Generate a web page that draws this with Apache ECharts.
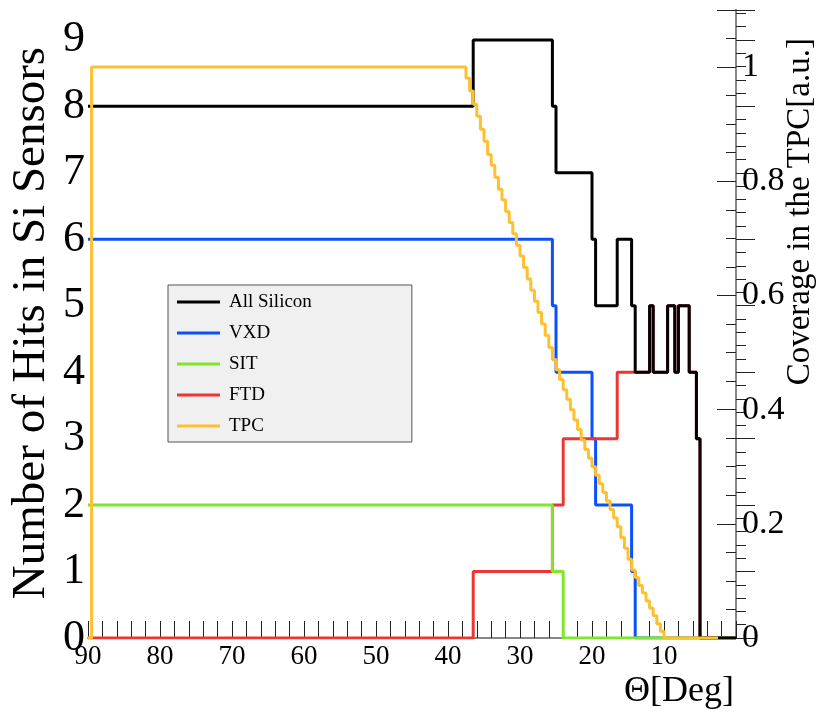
<!DOCTYPE html>
<html>
<head>
<meta charset="utf-8">
<script src="https://cdn.jsdelivr.net/npm/echarts@6/dist/echarts.min.js"></script>
<style>html,body{margin:0;padding:0;background:#fff;}#chart{width:818px;height:712px;}</style>
</head>
<body>
<div id="chart"></div>
<script>
// Bin edges in degrees (descending) and the value held between edge i and edge i+1
const allSiEdges = [90, 36.5, 25.5, 25, 20, 19.5, 16.5, 14.5, 14, 12, 11.5, 9.5, 8.5, 8, 6.5, 5.5, 5, 0];
const allSiHits  = [8, 9, 8, 7, 6, 5, 6, 5, 4, 5, 4, 5, 4, 5, 4, 3, 0];

const vxdEdges = [90, 25.5, 25, 20, 19.5, 14.5, 14, 0];
const vxdHits  = [6, 5, 4, 3, 2, 1, 0];

const sitEdges = [90, 25.5, 24, 0];
const sitHits  = [2, 1, 0];

const ftdEdges = [90, 36.5, 25.5, 24, 16.5, 12, 11.5, 9.5, 8.5, 8, 6.5, 5.5, 5, 0];
const ftdHits  = [0, 1, 2, 3, 4, 5, 4, 5, 4, 5, 4, 3, 0];

const tpcEdges = [90, 89.5,
  37.5, 37, 36.5, 36, 35.5, 35, 34.5, 34, 33.5, 33, 32.5, 32, 31.5, 31, 30.5, 30,
  29.5, 29, 28.5, 28, 27.5, 27, 26.5, 26, 25.5, 25, 24.5, 24, 23.5, 23, 22.5, 22,
  21.5, 21, 20.5, 20, 19.5, 19, 18.5, 18, 17.5, 17, 16.5, 16, 15.5, 15, 14.5, 14,
  13.5, 13, 12.5, 12, 11.5, 11, 10.5, 10, 2.5];
const tpcCoverage = [0, 1,
  0.981, 0.958, 0.935, 0.914, 0.891, 0.870, 0.847, 0.828, 0.807, 0.786, 0.767,
  0.747, 0.728, 0.708, 0.688, 0.669, 0.649, 0.629, 0.609, 0.590, 0.570, 0.550,
  0.530, 0.509, 0.488, 0.470, 0.453, 0.435, 0.418, 0.400, 0.382, 0.365, 0.347,
  0.330, 0.315, 0.300, 0.285, 0.270, 0.255, 0.240, 0.225, 0.210, 0.195, 0.176,
  0.157, 0.138, 0.119, 0.106, 0.092, 0.079, 0.065, 0.052, 0.039, 0.025, 0.012, 0];

const xTickLabels = [90, 80, 70, 60, 50, 40, 30, 20, 10];
const leftTickLabels = [0, 1, 2, 3, 4, 5, 6, 7, 8, 9];
const rightTickLabels = [0, 0.2, 0.4, 0.6, 0.8, 1];

function stepData(edges, vals) {
  const d = vals.map((v, i) => [edges[i], v]);
  d.push([edges[edges.length - 1], vals[vals.length - 1]]);
  return d;
}

const SERIF = 'Liberation Serif';
const chart = echarts.init(document.getElementById('chart'));

function mkSeries(name, edges, vals, color, z, yIdx) {
  return {
    name: name, type: 'line', step: 'end', symbol: 'none', z: z,
    yAxisIndex: yIdx || 0,
    data: stepData(edges, vals),
    lineStyle: { color: color, width: 3 },
    itemStyle: { color: color },
    animation: false
  };
}

chart.setOption({
  animation: false,
  backgroundColor: '#fff',
  grid: { left: 88, right: 82, top: 10, bottom: 74 },
  legend: {
    data: ['All Silicon', 'VXD', 'SIT', 'FTD', 'TPC'],
    orient: 'vertical',
    left: 168, top: 285,
    backgroundColor: '#f0f0f0',
    borderColor: '#555', borderWidth: 1, borderRadius: 0,
    padding: [7, 100, 6, 9],
    itemGap: 11,
    itemWidth: 43, itemHeight: 3,
    icon: 'rect',
    textStyle: { fontFamily: SERIF, fontSize: 19, color: '#000', lineHeight: 20, padding: [0, 0, 0, 4] }
  },
  xAxis: {
    type: 'value', min: 0, max: 90, interval: 10, inverse: true,
    axisLine: { show: true, onZero: false, lineStyle: { color: '#888', width: 2 } },
    axisTick: { show: true, inside: true, length: 17, lineStyle: { color: '#222', width: 1 } },
    minorTick: { show: true, splitNumber: 5, length: 17, lineStyle: { color: '#222', width: 1 } },
    splitLine: { show: false },
    axisLabel: {
      fontFamily: SERIF, fontSize: 27, color: '#000', margin: 5,
      formatter: v => xTickLabels.indexOf(v) >= 0 ? String(v) : ''
    }
  },
  yAxis: [{
    type: 'value', min: 0, max: 9.45, interval: 1, position: 'left',
    axisLine: { show: true, lineStyle: { color: '#888', width: 2 } },
    axisTick: { show: true, inside: true, length: 19, lineStyle: { color: '#222', width: 1 } },
    minorTick: { show: true, splitNumber: 5, length: 10, lineStyle: { color: '#222', width: 1 } },
    splitLine: { show: false },
    axisLabel: {
      fontFamily: SERIF, fontSize: 44, color: '#000', margin: 3, showMaxLabel: false,
      formatter: v => leftTickLabels.indexOf(v) >= 0 ? String(v) : ''
    }
  }, {
    type: 'value', min: 0, max: 1.1, interval: 0.2, position: 'right',
    axisLine: { show: true, lineStyle: { color: '#888', width: 2 } },
    axisTick: { show: true, inside: true, length: 19, lineStyle: { color: '#222', width: 1 } },
    minorTick: { show: true, splitNumber: 4, length: 10, lineStyle: { color: '#222', width: 1 } },
    splitLine: { show: false },
    axisLabel: {
      fontFamily: SERIF, fontSize: 34, color: '#000', margin: 6, showMaxLabel: false,
      formatter: v => {
        const r = Math.round(v * 10) / 10;
        return rightTickLabels.indexOf(r) >= 0 ? String(r) : '';
      }
    }
  }],
  graphic: [
    { type: 'text', x: 32, y: 323, rotation: Math.PI / 2,
      style: { text: 'Number of Hits in Si Sensors', fontFamily: SERIF, fontSize: 47, fill: '#000',
               align: 'center', verticalAlign: 'middle' } },
    { type: 'text', x: 800, y: 38, rotation: Math.PI / 2,
      style: { text: 'Coverage in the TPC[a.u.]', fontFamily: SERIF, fontSize: 33, fill: '#000',
               align: 'right', verticalAlign: 'middle' } },
    { type: 'text', x: 734, y: 692,
      style: { text: 'Θ[Deg]', fontFamily: SERIF, fontSize: 36, fill: '#000',
               align: 'right', verticalAlign: 'middle' } }
  ],
  series: [
    mkSeries('All Silicon', allSiEdges, allSiHits, '#000000', 5),
    mkSeries('VXD', vxdEdges, vxdHits, '#0a50ff', 2),
    mkSeries('SIT', sitEdges, sitHits, '#7fe62a', 4),
    mkSeries('FTD', ftdEdges, ftdHits, '#ee3535', 3),
    mkSeries('TPC', tpcEdges, tpcCoverage, '#fcc030', 6, 1)
  ]
});
</script>
</body>
</html>
